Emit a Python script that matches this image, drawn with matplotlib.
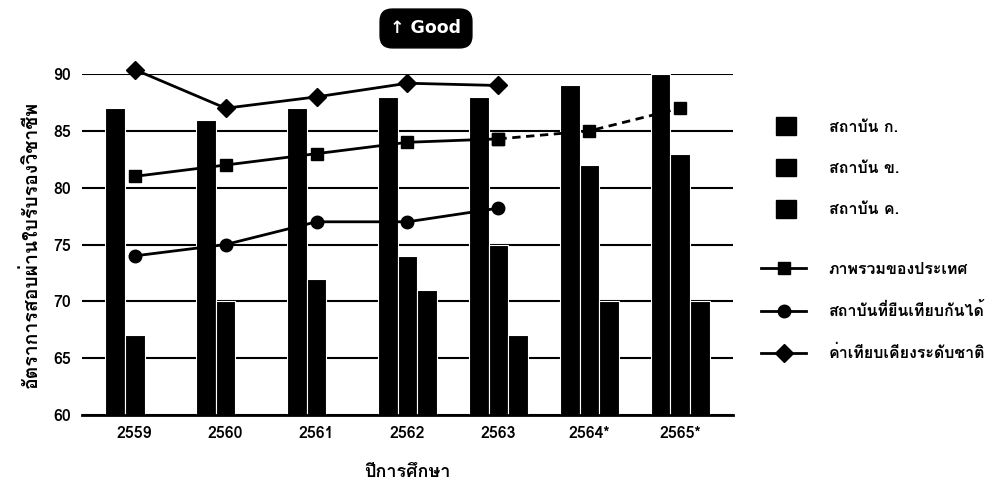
import numpy as np
import matplotlib
matplotlib.use("Agg")
import matplotlib.pyplot as plt
from matplotlib.lines import Line2D
from matplotlib.patches import Patch

years = ['2559', '2560', '2561', '2562', '2563', '2564*', '2565*']
inst_a = [87, 86, 87, 88, 88, 89, 90]
inst_b = [67, 70, 72, 74, 75, 82, 83]
inst_c = [np.nan, np.nan, np.nan, 71, 67, 70, 70]
national = [81, 82, 83, 84, 84.3, 85, 87]
comparable = [74, 75, 77, 77, 78.2, np.nan, np.nan]
benchmark = [90.4, 87, 88, 89.2, 89, np.nan, np.nan]
bar_labels = ['สถาบัน ก.', 'สถาบัน ข.', 'สถาบัน ค.']
line_labels = ['ภาพรวมของประเทศ', 'สถาบันที่ยืนเทียบกันได้', 'ค่าเทียบเคียงระดับชาติ']
n_actual = 5  # years with actual (non-projected) national values

plt.rcParams['font.family'] = ['Loma', 'DejaVu Sans']
plt.rcParams['font.weight'] = 'bold'

fig = plt.figure(figsize=(10, 4.91), dpi=100)
ax = fig.add_axes([0.082, 0.155, 0.651, 0.694])
x = np.arange(len(years))
w = 0.215
for i, s in enumerate([inst_a, inst_b, inst_c]):
    ax.bar(x + (i - 1) * w, s, width=w, color='black', edgecolor='white', linewidth=0.8, zorder=2)

nat = np.array(national)
ax.plot(x[:n_actual], nat[:n_actual], color='black', lw=2, marker='s', ms=9, zorder=3, clip_on=False)
ax.plot(x[n_actual - 1:], nat[n_actual - 1:], color='black', lw=2, ls=(0, (3, 2)), marker='s', ms=9,
        zorder=3, clip_on=False)
ax.plot(x, comparable, color='black', lw=2, marker='o', ms=9, zorder=3, clip_on=False)
ax.plot(x, benchmark, color='black', lw=2, marker='D', ms=9, zorder=3, clip_on=False)

ax.set_ylim(60, 90)
ax.set_xlim(-0.58, len(years) - 1 + 0.58)
ax.set_yticks(np.arange(60, 91, 5))
ax.set_xticks(x)
ax.set_xticklabels(years)
ax.yaxis.grid(True, color='black', lw=1.5, zorder=0)
ax.set_axisbelow(True)
for sp in ['left', 'right', 'top']:
    ax.spines[sp].set_visible(False)
ax.spines['bottom'].set_linewidth(2)
ax.tick_params(length=0, labelsize=11.5, pad=8)
for t in ax.get_xticklabels() + ax.get_yticklabels():
    t.set_fontweight('bold')
ax.set_xlabel('ปีการศึกษา', fontsize=13, fontweight='bold', labelpad=16)
ax.set_ylabel('อัตราการสอบผ่านใบรับรองวิชาชีพ', fontsize=14, fontweight='bold', labelpad=9)

bh = [Patch(facecolor='black', edgecolor='black') for _ in bar_labels]
fig.legend(bh, bar_labels, loc='upper left', bbox_to_anchor=(0.762, 0.79), frameon=False,
           prop=dict(size=11.5, weight='bold'), labelspacing=1.5, handlelength=1.2, handleheight=1.3,
           handletextpad=2.1)
lh = [Line2D([], [], color='black', lw=2, marker=m, ms=9) for m in ['s', 'o', 'D']]
fig.legend(lh, line_labels, loc='upper left', bbox_to_anchor=(0.747, 0.496), frameon=False,
           prop=dict(size=11.5, weight='bold'), labelspacing=1.6, handlelength=2.8, handletextpad=1.4)

fig.text(0.426, 0.942, '\u2191 Good', color='white', fontsize=12.5, fontweight='bold', ha='center', va='center',
         family=['DejaVu Sans'],
         bbox=dict(boxstyle='round,pad=0.6,rounding_size=0.7', facecolor='black', edgecolor='black'))

fig.savefig('out.png', dpi=100)
